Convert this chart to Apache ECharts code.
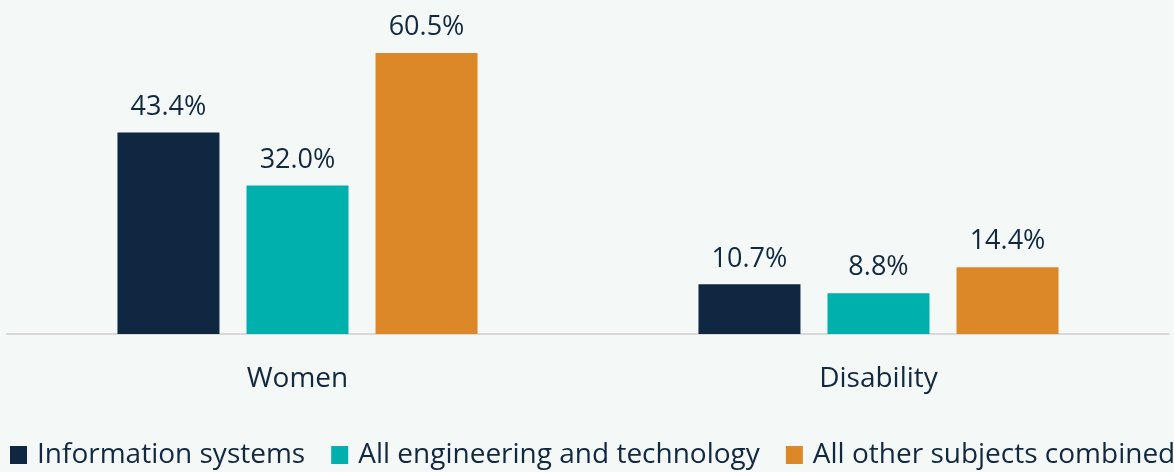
<!DOCTYPE html>
<html>
<head>
<meta charset="utf-8">
<script src="https://cdn.jsdelivr.net/npm/echarts@6/dist/echarts.min.js"></script>
<style>
html,body{margin:0;padding:0;background:#f4f9f8;}
#c{width:1174px;height:472px;}
</style>
</head>
<body>
<div id="c"></div>
<script>
const categories = ['Women', 'Disability'];
const seriesNames = ['Information systems', 'All engineering and technology', 'All other subjects combined'];
const infoSystems = [43.4, 10.7];
const engTech = [32.0, 8.8];
const otherSubjects = [60.5, 14.4];
const colors = ['#0f2740', '#00b0ad', '#dc8828'];
const textColor = '#12283f';
const font = '"Open Sans", "Noto Sans", sans-serif';

const values = [infoSystems, engTech, otherSubjects];
const chart = echarts.init(document.getElementById('c'));
chart.setOption({
  backgroundColor: '#f4f9f8',
  animation: false,
  textStyle: { fontFamily: font, color: textColor },
  grid: { left: 7, width: 1162, top: 9, bottom: 138, containLabel: false },
  legend: {
    left: 5, top: 436, width: 2000,
    itemWidth: 17, itemHeight: 18, itemGap: 26,
    icon: 'rect',
    textStyle: { fontFamily: font, fontSize: 28, color: textColor, padding: [0, 0, 0, 5] },
    data: seriesNames
  },
  xAxis: {
    type: 'category',
    data: categories,
    axisLine: { show: true, lineStyle: { color: '#d9d9d9', width: 2 } },
    axisTick: { show: false },
    axisLabel: { fontFamily: font, fontSize: 28, color: textColor, margin: 31 }
  },
  yAxis: {
    type: 'value', min: 0, max: 70,
    show: false,
    splitLine: { show: false }
  },
  series: seriesNames.map((n, i) => ({
    name: n,
    type: 'bar',
    data: values[i],
    barWidth: 102,
    barGap: '26.5%',
    itemStyle: { color: colors[i] },
    label: {
      show: true, position: 'top', distance: 12,
      fontFamily: font, fontSize: 27, color: textColor,
      formatter: p => p.value.toFixed(1) + '%'
    }
  }))
});
</script>
</body>
</html>
